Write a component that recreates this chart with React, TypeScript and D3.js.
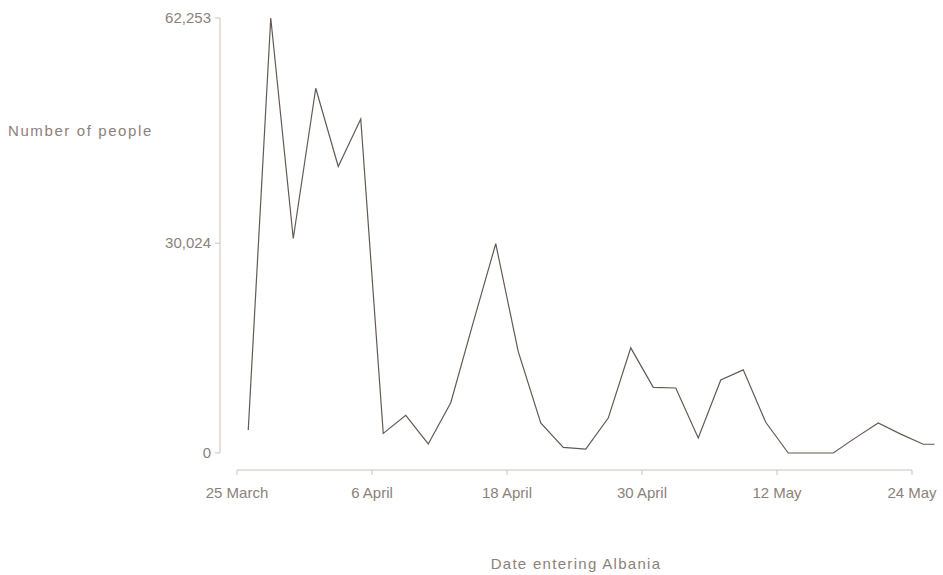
import React from "react";
import * as d3 from "d3";

const pointDates: string[] = [
  "1999-03-26", "1999-03-28", "1999-03-30", "1999-04-01", "1999-04-03", "1999-04-05",
  "1999-04-07", "1999-04-09", "1999-04-11", "1999-04-13", "1999-04-15", "1999-04-17",
  "1999-04-19", "1999-04-21", "1999-04-23", "1999-04-25", "1999-04-27", "1999-04-29",
  "1999-05-01", "1999-05-03", "1999-05-05", "1999-05-07", "1999-05-09", "1999-05-11",
  "1999-05-13", "1999-05-15", "1999-05-17", "1999-05-19", "1999-05-21", "1999-05-23",
  "1999-05-25", "1999-05-26",
];
const peopleValues: number[] = [
  3300, 62253, 30700, 52200, 41000, 47800,
  2800, 5400, 1300, 7200, 18700, 29950,
  14500, 4300, 800, 550, 5000, 15050,
  9400, 9300, 2150, 10450, 11900, 4400,
  0, 0, 0, 2200, 4300, 2700,
  1250, 1250,
];
const xTickDates: string[] = ["1999-03-25", "1999-04-06", "1999-04-18", "1999-04-30", "1999-05-12", "1999-05-24"];
const xTickLabels: string[] = ["25 March", "6 April", "18 April", "30 April", "12 May", "24 May"];
const yTickValues: number[] = [0, 30024, 62253];

const W = 943;
const H = 575;
const parse = (s: string) => {
  const [y, m, d] = s.split("-").map(Number);
  return new Date(Date.UTC(y, m - 1, d));
};

export default function App() {
  const x = d3
    .scaleUtc()
    .domain([parse(xTickDates[0]), parse(xTickDates[xTickDates.length - 1])])
    .range([237, 912]);
  const y = d3.scaleLinear().domain([0, 62253]).range([453, 18]);
  const data = pointDates.map((d, i) => ({ date: parse(d), value: peopleValues[i] }));
  const line = d3
    .line<{ date: Date; value: number }>()
    .x((d) => x(d.date))
    .y((d) => y(d.value));
  const fmt = d3.format(",");
  const axisColor = "#cbc1b9";
  const textColor = "#8c817a";
  const font = "'Liberation Sans', Arial, sans-serif";
  const yAxisX = 220;
  const xAxisY = 470;

  return (
    <svg
      width={W}
      height={H}
      style={{ position: "absolute", left: 0, top: 0, background: "#fff" }}
      fontFamily={font}
    >
      {/* Y axis */}
      <line x1={yAxisX} x2={yAxisX} y1={y(62253)} y2={y(0)} stroke={axisColor} strokeWidth={1} />
      {yTickValues.map((v) => (
        <g key={v}>
          <line x1={yAxisX - 5} x2={yAxisX} y1={y(v)} y2={y(v)} stroke={axisColor} strokeWidth={1} />
          <text
            x={yAxisX - 9}
            y={y(v)}
            dy="0.35em"
            textAnchor="end"
            fontSize={15}
            fill={textColor}
          >
            {fmt(v)}
          </text>
        </g>
      ))}
      <text x={8} y={136} fontSize={15} letterSpacing={1.6} fill={textColor}>
        Number of people
      </text>

      {/* X axis */}
      <line
        x1={x(parse(xTickDates[0]))}
        x2={x(parse(xTickDates[xTickDates.length - 1]))}
        y1={xAxisY}
        y2={xAxisY}
        stroke={axisColor}
        strokeWidth={1}
      />
      {xTickDates.map((d, i) => (
        <g key={d}>
          <line
            x1={x(parse(d))}
            x2={x(parse(d))}
            y1={xAxisY}
            y2={xAxisY + 5}
            stroke={axisColor}
            strokeWidth={1}
          />
          <text
            x={x(parse(d))}
            y={498}
            textAnchor="middle"
            fontSize={15}
            fill={textColor}
          >
            {xTickLabels[i]}
          </text>
        </g>
      ))}
      <text x={576} y={569} textAnchor="middle" fontSize={15} letterSpacing={1.3} fill={textColor}>
        Date entering Albania
      </text>

      {/* Line */}
      <path d={line(data) || ""} fill="none" stroke="#655952" strokeWidth={1.2} strokeLinejoin="miter" />
    </svg>
  );
}
